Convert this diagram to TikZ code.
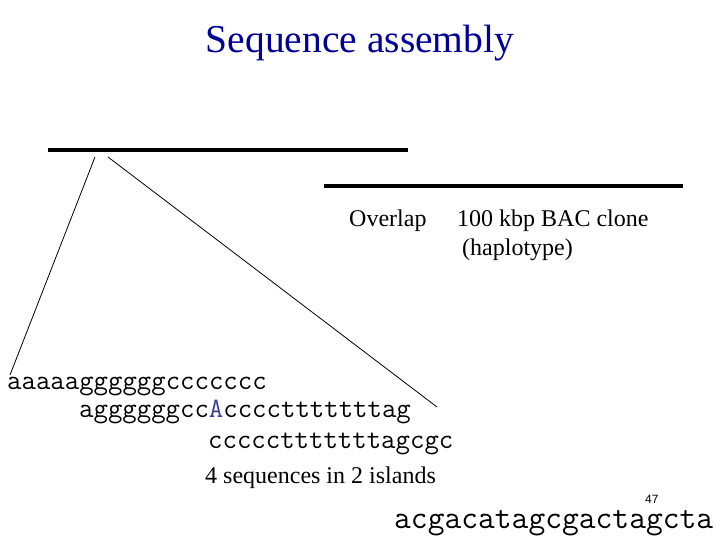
\documentclass[tikz,border=0pt]{standalone}
\usepackage{fontspec}
\setmainfont{Liberation Serif}
\setsansfont{Liberation Sans}
\definecolor{titleblue}{RGB}{0,0,153}
\definecolor{abase}{RGB}{60,60,150}
\begin{document}
\begin{tikzpicture}[x=1pt,y=-1pt,
  txt/.style={inner sep=0pt,anchor=base west,font=\fontsize{24}{28}\selectfont},
  seq/.style={inner sep=0pt,anchor=base west,font=\ttfamily\fontsize{28}{30}\selectfont},
  clone/.style={line width=4pt},
  zoomline/.style={line width=0.8pt}]
\useasboundingbox (0,0) rectangle (720,540);
% title
\node[inner sep=0pt,anchor=base,text=titleblue,font=\fontsize{39.5}{44}\selectfont] (title) at (360,53) {Sequence assembly};
% BAC clones
\coordinate (c1a) at (48,150);
\coordinate (c1b) at (408,150);
\coordinate (c2a) at (324,186);
\coordinate (c2b) at (683,186);
\draw[clone] (c1a) -- (c1b);
\draw[clone] (c2a) -- (c2b);
% labels
\node[txt] (overlap) at (349,226) {Overlap};
\node[txt] (bac) at (457,226) {100 kbp BAC clone};
\node[txt] (hap) at (462,255) {(haplotype)};
% zoom lines
\coordinate (z1a) at (95,157);
\coordinate (z1b) at (10,375);
\coordinate (z2a) at (108,157);
\coordinate (z2b) at (437,407);
\draw[zoomline] (z1a) -- (z1b);
\draw[zoomline] (z2a) -- (z2b);
% sequences
\node[seq] (s1) at (7,389) {aaaaaggggggccccccc};
\node[seq] (s2) at (79,417) {aggggggcc\textcolor{abase}{A}cccctttttttag};
\node[seq] (s3) at (208,448) {ccccctttttttagcgc};
\node[txt] (islands) at (205,483) {4 sequences in 2 islands};
\node[inner sep=0pt,anchor=base west,font=\sffamily\fontsize{12}{14}\selectfont] (pg) at (645,503) {47};
\node[inner sep=0pt,anchor=base west,font=\ttfamily\fontsize{32.6}{34}\selectfont] (s4) at (394,528) {acgacatagcgactagcta};
\end{tikzpicture}
\end{document}
